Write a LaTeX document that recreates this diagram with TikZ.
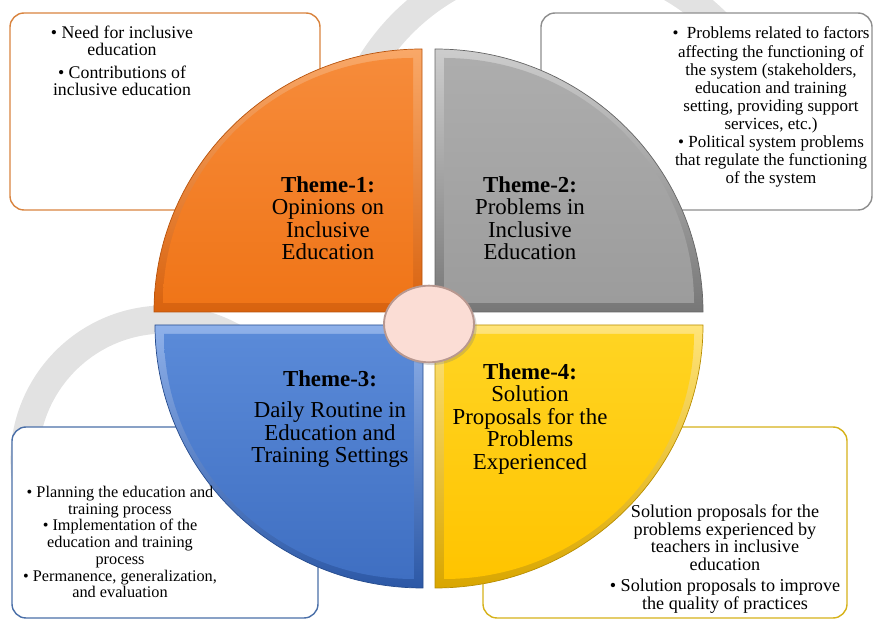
\documentclass[tikz,border=0pt]{standalone}
\usepackage{fontspec}
\setmainfont{Liberation Serif}
\usetikzlibrary{positioning,shapes.geometric,shadows}

\definecolor{markgray}{HTML}{E2E2E2}
\definecolor{boxorange}{HTML}{D9843F}
\definecolor{boxgray}{HTML}{8E8E8E}
\definecolor{boxblue}{HTML}{4A6FA8}
\definecolor{boxyellow}{HTML}{D6B21A}
\definecolor{orangeRimA}{HTML}{F9A868}
\definecolor{orangeRimB}{HTML}{D8620E}
\definecolor{orangeA}{HTML}{F68B3A}
\definecolor{orangeB}{HTML}{F07518}
\definecolor{grayRimA}{HTML}{CDCDCD}
\definecolor{grayRimB}{HTML}{777777}
\definecolor{grayA}{HTML}{ADADAD}
\definecolor{grayB}{HTML}{9C9C9C}
\definecolor{blueRimA}{HTML}{8FB1EA}
\definecolor{blueRimB}{HTML}{2C58A6}
\definecolor{blueA}{HTML}{5A8AD8}
\definecolor{blueB}{HTML}{3F6FC2}
\definecolor{yellowRimA}{HTML}{FFE47A}
\definecolor{yellowRimB}{HTML}{D9A600}
\definecolor{yellowA}{HTML}{FFD422}
\definecolor{yellowB}{HTML}{FFC400}
\definecolor{hubFill}{HTML}{FBDDD5}
\definecolor{hubRim}{HTML}{B89890}

\tikzset{
  watermark/.style = {draw=markgray, line width=24pt},
  infobox/.style = {draw=#1, line width=1.2pt, fill=white, rounded corners=12pt},
  rim/.style 2 args = {top color=#1, bottom color=#2, draw=#2!85!black, line width=0.6pt},
  face/.style 2 args = {top color=#1, bottom color=#2},
  hub/.style = {ellipse, draw=hubRim, line width=1.6pt, fill=hubFill,
    minimum width=2.7cm, minimum height=2.3cm, drop shadow={opacity=0.3}},
  themetext/.style = {align=center, inner sep=0pt, font=\fontsize{19.5}{19.2}\selectfont},
  listtext/.style = {align=center, inner sep=0pt}
}

\begin{document}
\begin{tikzpicture}[x=0.03cm, y=0.03cm]
  \useasboundingbox (0,0) rectangle (873,620);

  % faint rings in the back
  \draw[watermark] (165,160) circle[radius=140.5];
  \draw[watermark] (560,440) ++(15:222) arc[start angle=15, end angle=200, radius=222];

  % the four boxes
  \draw[infobox=boxorange] (10,410) rectangle (320,607);
  \draw[infobox=boxgray] (541,410) rectangle (872,607);
  \draw[infobox=boxblue] (12,2) rectangle (318,193);
  \draw[infobox=boxyellow] (483,2) rectangle (847,193);

  % quarters of the disc
  \def\rx{268}
  \def\ry{263}
  \def\bev{9}
  \coordinate (K1) at (422,308);
  \coordinate (K2) at (435,308);
  \coordinate (K3) at (423,295);
  \coordinate (K4) at (435,295);

  \draw[rim={orangeRimA}{orangeRimB}] (K1) -- ++(0,\ry)
    arc[start angle=90, end angle=180, x radius=\rx, y radius=\ry] -- cycle;
  \path[face={orangeA}{orangeB}] ([shift={(-\bev,\bev)}]K1) -- ++(0,\ry-2*\bev)
    arc[start angle=90, end angle=180, x radius=\rx-2*\bev, y radius=\ry-2*\bev] -- cycle;

  \draw[rim={grayRimA}{grayRimB}] (K2) -- ++(\rx,0)
    arc[start angle=0, end angle=90, x radius=\rx, y radius=\ry] -- cycle;
  \path[face={grayA}{grayB}] ([shift={(\bev,\bev)}]K2) -- ++(\rx-2*\bev,0)
    arc[start angle=0, end angle=90, x radius=\rx-2*\bev, y radius=\ry-2*\bev] -- cycle;

  \draw[rim={blueRimA}{blueRimB}] (K3) -- ++(-\rx,0)
    arc[start angle=180, end angle=270, x radius=\rx, y radius=\ry] -- cycle;
  \path[face={blueA}{blueB}] ([shift={(-\bev,-\bev)}]K3) -- ++(-\rx+2*\bev,0)
    arc[start angle=180, end angle=270, x radius=\rx-2*\bev, y radius=\ry-2*\bev] -- cycle;

  \draw[rim={yellowRimA}{yellowRimB}] (K4) -- ++(0,-\ry)
    arc[start angle=270, end angle=360, x radius=\rx, y radius=\ry] -- cycle;
  \path[face={yellowA}{yellowB}] ([shift={(\bev,-\bev)}]K4) -- ++(0,-\ry+2*\bev)
    arc[start angle=270, end angle=360, x radius=\rx-2*\bev, y radius=\ry-2*\bev] -- cycle;

  \node[hub] (hub) at (429,296) {};

  % theme titles
  \node[themetext] (theme1) at (328,402) {\textbf{Theme-1:}\\Opinions on\\Inclusive\\Education};
  \node[themetext] (theme2) at (530,402) {\textbf{Theme-2:}\\Problems in\\Inclusive\\Education};
  \node[themetext] (theme3) at (330,201) {\textbf{Theme-3:}\\[8pt]Daily Routine in\\Education and\\Training Settings};
  \node[themetext] (theme4) at (530,201) {\textbf{Theme-4:}\\Solution\\Proposals for the\\Problems\\Experienced};

  % box texts
  \node[listtext, font=\fontsize{15.2}{14.4}\selectfont] (list1) at (122,559)
    {\textbullet\ Need for inclusive\\education\\[5pt]\textbullet\ Contributions of\\inclusive education};
  \node[listtext, font=\fontsize{14.5}{15.4}\selectfont] (list2) at (771,513)
    {\textbullet\ \ Problems related to factors\\affecting the functioning of\\the system (stakeholders,\\education and training\\setting, providing support\\services, etc.)\\\textbullet\ Political system problems\\that regulate the functioning\\of the system};
  \node[listtext, font=\fontsize{13.9}{14.3}\selectfont] (list3) at (120,78)
    {\textbullet\ Planning the education and\\training process\\\textbullet\ Implementation of the\\education and training\\process\\\textbullet\ Permanence, generalization,\\and evaluation};
  \node[listtext, font=\fontsize{15.5}{15}\selectfont] (list4) at (725,61)
    {Solution proposals for the\\problems experienced by\\teachers in inclusive\\education\\[3.4pt]\textbullet\ Solution proposals to improve\\the quality of practices};
\end{tikzpicture}
\end{document}
